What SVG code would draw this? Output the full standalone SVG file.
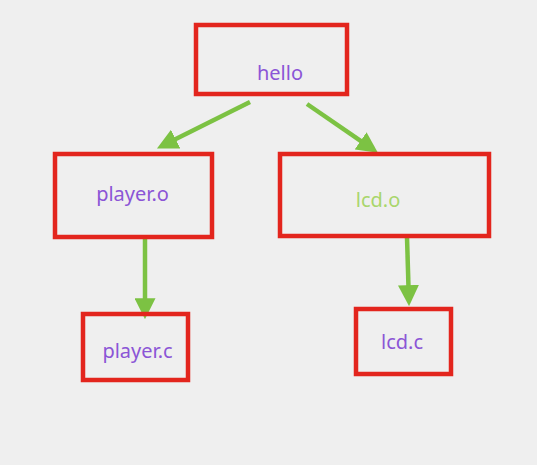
<svg xmlns="http://www.w3.org/2000/svg" width="537" height="465" viewBox="0 0 537 465">
<style>
.box{fill:none;stroke:#e3251d;stroke-width:4.5}
.lbl{font-family:"Noto Sans","Open Sans",sans-serif;font-size:20px;fill:#8b55d6;text-anchor:middle}
.green{fill:#a9d66c}
.conn{stroke:#7cc243;stroke-width:4.5;fill:none}
</style>
<defs>
<marker id="ah" markerUnits="userSpaceOnUse" markerWidth="21" markerHeight="21" viewBox="0 0 19 19" refX="8" refY="9.5" orient="auto">
<path d="M0,0 L19,9.5 L0,19 z" fill="#7cc243"/>
</marker>
</defs>
<rect width="537" height="465" fill="#efefef"/>
<g id="connectors">
<line class="conn" x1="250" y1="102" x2="167.8" y2="143.1" marker-end="url(#ah)"/>
<line class="conn" x1="307" y1="104" x2="367.9" y2="145.8" marker-end="url(#ah)"/>
<line class="conn" x1="145" y1="238" x2="145" y2="307" marker-end="url(#ah)"/>
<line class="conn" x1="407" y1="237" x2="408.7" y2="294" marker-end="url(#ah)"/>
</g>
<g id="hello">
<rect class="box" x="196" y="25" width="151" height="69"/>
<text class="lbl" x="280" y="80">hello</text>
</g>
<g id="player_o">
<rect class="box" x="55" y="154" width="157" height="83"/>
<text class="lbl" x="132.5" y="201">player.o</text>
</g>
<g id="lcd_o">
<rect class="box" x="280" y="154" width="209" height="82"/>
<text class="lbl green" x="378" y="207">lcd.o</text>
</g>
<g id="player_c">
<rect class="box" x="83" y="314" width="105" height="66"/>
<text class="lbl" x="137.5" y="358">player.c</text>
</g>
<g id="lcd_c">
<rect class="box" x="356" y="309" width="95" height="65"/>
<text class="lbl" x="402" y="349">lcd.c</text>
</g>
</svg>
